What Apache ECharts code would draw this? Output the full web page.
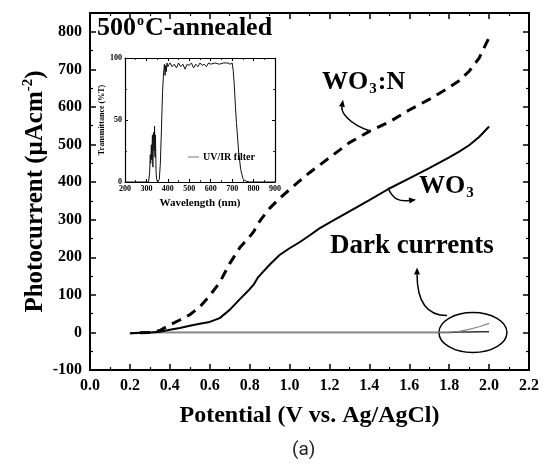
<!DOCTYPE html>
<html>
<head>
<meta charset="utf-8">
<script src="https://cdn.jsdelivr.net/npm/echarts@6/dist/echarts.min.js"></script>
<style>
  html, body { margin: 0; padding: 0; background: #fff; }
  #chart { width: 546px; height: 465px; }
</style>
</head>
<body>
<div id="chart"></div>
<script>
// main plot: photocurrent vs potential
var potential = [0.20, 0.25, 0.30, 0.35, 0.40, 0.45, 0.50, 0.55, 0.60, 0.65,
  0.70, 0.75, 0.80, 0.82, 0.84, 0.86, 0.90, 0.95, 1.00, 1.05,
  1.10, 1.15, 1.20, 1.30, 1.40, 1.50, 1.60, 1.70, 1.80, 1.85,
  1.90, 1.95, 2.00]
var wo3 = [-2, -1, 0, 2, 7, 12, 18, 23, 28, 38,
  60, 88, 115, 127, 145, 157, 180, 206, 224, 240,
  258, 277, 292, 322, 352, 383, 410, 437, 466, 481,
  498, 520, 548]
var wo3n = [null, -1, 0, 5, 20, 33, 47, 68, 98, 133,
  183, 225, 255, 268, 288, 303, 330, 357, 380, 403,
  425, 445, 465, 505, 535, 560, 592, 620, 652, 670,
  695, 730, 785]
var darkWo3 = [-3, -2, -1, 0, 0, 0, 0, 0, 0, 0,
  0, 0, 0, 0, 0, 0, 0, 0, 0, 0,
  0, 0, 0, 0, 0, 0, 0, 0, 0, 1,
  1, 2, 2]
var darkWo3n = [-2, -1, 0, 0, 0, 0, 0, 0, 0, 0,
  0, 0, 0, 0, 0, 0, 0, 0, 0, 0,
  0, 0, 0, 0, 0, 0, 0, 0, 1, 3,
  8, 15, 24]

// inset: UV/IR filter transmittance
var wavelength = [200, 300, 310, 315, 318, 320, 323, 325, 328, 330,
  333, 336, 338, 340, 342, 345, 348, 352, 356, 360,
  365, 370, 375, 380, 384, 387, 390, 393, 396, 400,
  410, 420, 430, 440, 450, 460, 470, 480, 490, 500,
  510, 520, 530, 540, 550, 560, 570, 580, 590, 600,
  620, 640, 660, 680, 690, 700, 705, 710, 715, 720,
  730, 740, 750, 760, 780, 900]
var transmittance = [0, 0, 0, 8, 22, 15, 30, 18, 38, 12,
  40, 25, 45, 20, 38, 8, 2, 0, 0, 2,
  15, 42, 72, 88, 95, 86, 94, 89, 96, 93,
  96, 93, 95, 92, 96, 93, 95, 91, 95, 94,
  96, 92, 95, 93, 96, 94, 95, 93, 96, 95,
  96, 95, 96, 96, 95, 96, 90, 78, 62, 48,
  25, 10, 3, 1, 0, 0]

var serif = '"Liberation Serif", "DejaVu Serif", serif'

function pairs (xs, ys) {
  return xs.map(function (x, i) { return [x, ys[i]] })
}

function mainAxis (pos, showLabel) {
  return {
    gridIndex: 0,
    position: pos,
    type: 'value',
    axisLine: { show: true, onZero: false, lineStyle: { color: '#000', width: 2 } },
    axisTick: { show: true, inside: true, length: 6, lineStyle: { color: '#000', width: 1.5 } },
    minorTick: { show: true, splitNumber: 2, length: 3, lineStyle: { color: '#000', width: 1.2 } },
    splitLine: { show: false },
    axisLabel: { show: showLabel, color: '#000', fontFamily: serif, fontWeight: 'bold', fontSize: 16, margin: 8 }
  }
}

function insetAxis (pos, showLabel) {
  return {
    gridIndex: 1,
    position: pos,
    type: 'value',
    axisLine: { show: true, onZero: false, lineStyle: { color: '#000', width: 1.2 } },
    axisTick: { show: true, inside: true, length: 3, lineStyle: { color: '#000', width: 1 } },
    minorTick: { show: true, splitNumber: 2, length: 2, lineStyle: { color: '#000', width: 0.8 } },
    splitLine: { show: false },
    axisLabel: { show: showLabel, color: '#000', fontFamily: serif, fontWeight: 'bold', fontSize: 8, margin: 3 }
  }
}

var xMain = mainAxis('bottom', true)
xMain.min = 0; xMain.max = 2.2; xMain.interval = 0.2
xMain.axisLabel.formatter = function (v) { return v.toFixed(1) }
xMain.name = 'Potential (V vs. Ag/AgCl)'
xMain.nameLocation = 'middle'
xMain.nameGap = 34
xMain.nameTextStyle = { color: '#000', fontFamily: serif, fontWeight: 'bold', fontSize: 24 }
var xTop = mainAxis('top', false)
xTop.min = 0; xTop.max = 2.2; xTop.interval = 0.2

var yMain = mainAxis('left', true)
yMain.min = -100; yMain.max = 850; yMain.interval = 100
yMain.axisLabel.showMaxLabel = false
yMain.name = '{a|Photocurrent (μAcm}{s|-2}{a|)}'
yMain.nameLocation = 'middle'
yMain.nameGap = 40
yMain.nameMoveOverlap = false
yMain.nameTextStyle = {
  color: '#000',
  rich: {
    a: { fontFamily: serif, fontWeight: 'bold', fontSize: 25, color: '#000' },
    s: { fontFamily: serif, fontWeight: 'bold', fontSize: 15, color: '#000', padding: [0, 0, 14, 0] }
  }
}
var yRight = mainAxis('right', false)
yRight.min = -100; yRight.max = 850; yRight.interval = 100

var xIn = insetAxis('bottom', true)
xIn.min = 200; xIn.max = 900; xIn.interval = 100
xIn.name = 'Wavelength (nm)'
xIn.nameLocation = 'middle'
xIn.nameGap = 16
xIn.nameTextStyle = { color: '#000', fontFamily: serif, fontWeight: 'bold', fontSize: 11 }
var xInTop = insetAxis('top', false)
xInTop.min = 200; xInTop.max = 900; xInTop.interval = 100

var yIn = insetAxis('left', true)
yIn.min = 0; yIn.max = 100; yIn.interval = 50
yIn.name = 'Transmittance (%T)'
yIn.nameLocation = 'middle'
yIn.nameGap = 13
yIn.nameTextStyle = { color: '#000', fontFamily: serif, fontWeight: 'bold', fontSize: 8 }
var yInRight = insetAxis('right', false)
yInRight.min = 0; yInRight.max = 100; yInRight.interval = 50

var chart = echarts.init(document.getElementById('chart'), null, { renderer: 'canvas' })

var option = {
  animation: false,
  backgroundColor: '#fff',
  title: {
    text: '(a)',
    left: 287,
    top: 436,
    textStyle: { fontFamily: 'Roboto, "Noto Sans", sans-serif', fontWeight: 'normal', fontSize: 19, color: '#222' }
  },
  legend: {
    data: [{ name: 'UV/IR filter', icon: 'rect' }],
    left: 188,
    top: 152,
    padding: 0,
    itemWidth: 11,
    itemHeight: 1,
    itemGap: 2,
    itemStyle: { color: '#777' },
    textStyle: { fontFamily: serif, fontWeight: 'bold', fontSize: 10, color: '#000', padding: [0, 0, 0, -1] }
  },
  grid: [
    { left: 90, right: 17, top: 13, bottom: 95 },
    { left: 125, top: 58, width: 150, height: 124, backgroundColor: '#fff', show: true, borderWidth: 0 }
  ],
  xAxis: [xMain, xTop, xIn, xInTop],
  yAxis: [yMain, yRight, yIn, yInRight],
  series: [
    {
      name: 'dark WO3', type: 'line', xAxisIndex: 0, yAxisIndex: 0, symbol: 'none',
      lineStyle: { color: '#333', width: 1.5 }, data: pairs(potential, darkWo3)
    },
    {
      name: 'dark WO3:N', type: 'line', xAxisIndex: 0, yAxisIndex: 0, symbol: 'none',
      lineStyle: { color: '#888', width: 1.2 }, data: pairs(potential, darkWo3n)
    },
    {
      name: 'WO3', type: 'line', xAxisIndex: 0, yAxisIndex: 0, symbol: 'none',
      lineStyle: { color: '#000', width: 2 }, data: pairs(potential, wo3)
    },
    {
      name: 'WO3:N', type: 'line', xAxisIndex: 0, yAxisIndex: 0, symbol: 'none', connectNulls: false,
      lineStyle: { color: '#000', width: 3, type: [10, 7] }, data: pairs(potential, wo3n)
    },
    {
      name: 'UV/IR filter', type: 'line', xAxisIndex: 2, yAxisIndex: 2, symbol: 'none',
      itemStyle: { color: '#777' },
      lineStyle: { color: '#111', width: 1 }, data: pairs(wavelength, transmittance)
    }
  ]
}
chart.setOption(option)

// annotations, anchored in data units of the main plot
function px (v, i) {
  return chart.convertToPixel({ xAxisIndex: 0, yAxisIndex: 0 }, [v, i])
}
function arrow (p0, c1, c2, p1) {
  var dx = p1[0] - c2[0]
  var dy = p1[1] - c2[1]
  var len = Math.sqrt(dx * dx + dy * dy) || 1
  var ux = dx / len
  var uy = dy / len
  var L = 7
  var W = 3
  var base = [p1[0] - ux * L, p1[1] - uy * L]
  return [
    {
      type: 'bezierCurve',
      shape: { x1: p0[0], y1: p0[1], cpx1: c1[0], cpy1: c1[1], cpx2: c2[0], cpy2: c2[1], x2: base[0], y2: base[1] },
      style: { stroke: '#000', lineWidth: 1.5, fill: null }
    },
    {
      type: 'polygon',
      shape: { points: [p1, [base[0] - uy * W, base[1] + ux * W], [base[0] + uy * W, base[1] - ux * W]] },
      style: { fill: '#000' }
    }
  ]
}
function label (pos, text, rich) {
  return {
    type: 'text',
    x: pos[0],
    y: pos[1],
    style: { text: text, rich: rich, verticalAlign: 'middle', align: 'left', fill: '#000' }
  }
}
var big = function (size) { return { fontFamily: serif, fontWeight: 'bold', fontSize: size, fill: '#000' } }

var ell = px(1.919, 0)
var graphics = [
  label(px(0.035, 810), '{a|500}{o|o}{a|C-annealed}', {
    a: big(26),
    o: Object.assign(big(14), { padding: [0, 1, 14, 1] })
  }),
  label(px(1.163, 666), '{a|WO}{s|3}{a|:N}', {
    a: big(26),
    s: Object.assign(big(15), { padding: [14, 1, 0, 1] })
  }),
  label(px(1.649, 390), '{a|WO}{s|3}', {
    a: big(26),
    s: Object.assign(big(15), { padding: [14, 1, 0, 1] })
  }),
  label(px(1.203, 231), '{a|Dark currents}', { a: big(27) }),
  {
    type: 'ellipse',
    shape: { cx: ell[0], cy: ell[1], rx: 34, ry: 20 },
    style: { stroke: '#000', lineWidth: 1.5, fill: null }
  }
]
graphics = graphics
  .concat(arrow(px(1.403, 536), px(1.293, 555), px(1.258, 587), px(1.268, 619)))
  .concat(arrow(px(1.493, 385), px(1.518, 353), px(1.553, 348), px(1.634, 353)))
  .concat(arrow(px(1.789, 45), px(1.679, 45), px(1.639, 88), px(1.639, 173)))

chart.setOption({ graphic: graphics })
</script>
</body>
</html>
